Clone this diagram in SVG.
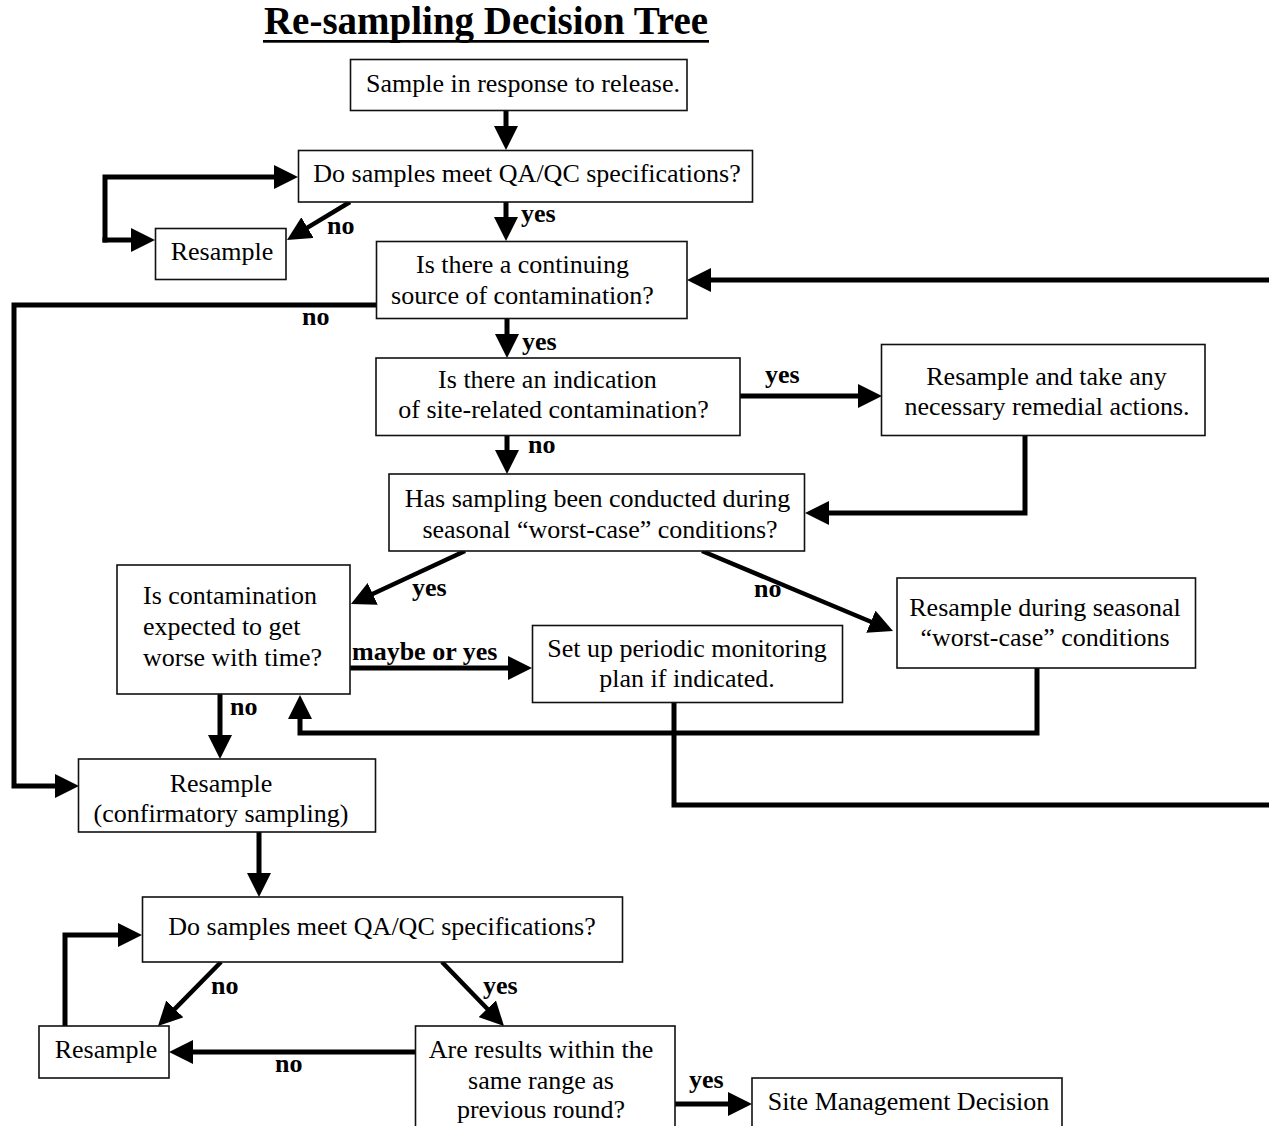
<svg xmlns="http://www.w3.org/2000/svg" width="1269" height="1126" viewBox="0 0 1269 1126">
  <style>
    .box { fill: #ffffff; stroke: #111111; stroke-width: 1.6; }
    .t { font-family: "Liberation Serif", "Times New Roman", serif; font-size: 26px; fill: #000000; }
    .c { text-anchor: middle; }
    .lbl { font-family: "Liberation Serif", "Times New Roman", serif; font-size: 26px; font-weight: bold; fill: #000000; }
    .wire { fill: none; stroke: #000000; stroke-width: 5; stroke-linecap: square; stroke-linejoin: miter; }
    .diag { fill: none; stroke: #000000; stroke-width: 4.5; stroke-linecap: butt; }
    .arr { marker-end: url(#head); }
  </style>
  <defs>
    <!-- solid triangular arrowhead; base sits 2px behind the path end, tip 22px ahead -->
    <marker id="head" viewBox="0 0 24 24" refX="2" refY="12" markerWidth="24" markerHeight="24" markerUnits="userSpaceOnUse" orient="auto">
      <path d="M0,0 L24,12 L0,24 Z" fill="#000000"/>
    </marker>
  </defs>

  <rect width="1269" height="1126" fill="#ffffff"/>

  <!-- title -->
  <g id="title">
    <text x="486" y="34" text-anchor="middle" font-family="Liberation Serif, Times New Roman, serif" font-size="39" font-weight="bold">Re-sampling Decision Tree</text>
    <rect x="263" y="40" width="446" height="2.7" fill="#000000"/>
  </g>

  <!-- connectors -->
  <g id="connectors">
    <path class="wire arr" d="M506,111 V128"/>
    <path class="wire arr" d="M105,240 V177 H276"/>
    <path class="wire arr" d="M105,240 H133"/>
    <path class="diag arr" d="M350,202 L305.8,228.6"/>
    <path class="wire arr" d="M506,203 V219"/>
    <path class="wire arr" d="M1272,280 H709"/>
    <path class="wire arr" d="M376,305 H14 V786 H57"/>
    <path class="wire arr" d="M507,319 V336"/>
    <path class="wire arr" d="M740,396 H860"/>
    <path class="wire arr" d="M1025,436 V513 H827"/>
    <path class="wire arr" d="M507,436 V452"/>
    <path class="diag arr" d="M465,551 L370.9,594.7"/>
    <path class="diag arr" d="M702,551 L872.7,622.5"/>
    <path class="wire arr" d="M350,668 H510"/>
    <path class="wire arr" d="M1037,668 V733 H300 V717"/>
    <path class="wire" d="M674,703 V805 H1272"/>
    <path class="wire arr" d="M220,694 V737"/>
    <path class="wire arr" d="M259,832 V875"/>
    <path class="wire arr" d="M65,1026 V935 H120"/>
    <path class="diag arr" d="M221,962 L173.4,1010.3"/>
    <path class="diag arr" d="M442,962 L488.7,1010.2"/>
    <path class="wire arr" d="M415,1052 H191"/>
    <path class="wire arr" d="M675,1104 H730"/>
  </g>

  <!-- connector labels -->
  <g id="labels">
    <text class="lbl" x="327" y="234">no</text>
    <text class="lbl" x="521" y="222">yes</text>
    <text class="lbl" x="302" y="325">no</text>
    <text class="lbl" x="522" y="350">yes</text>
    <text class="lbl" x="765" y="383">yes</text>
    <text class="lbl" x="528" y="453">no</text>
    <text class="lbl" x="412" y="596">yes</text>
    <text class="lbl" x="754" y="597">no</text>
    <text class="lbl" x="352" y="660">maybe or yes</text>
    <text class="lbl" x="230" y="715">no</text>
    <text class="lbl" x="211" y="994">no</text>
    <text class="lbl" x="483" y="994">yes</text>
    <text class="lbl" x="275" y="1072">no</text>
    <text class="lbl" x="689" y="1088">yes</text>
  </g>

  <!-- nodes -->
  <g id="n-sample">
    <rect class="box" x="350.5" y="59.5" width="336.5" height="51"/>
    <text class="t c" x="523" y="92">Sample in response to release.</text>
  </g>
  <g id="n-qaqc-1">
    <rect class="box" x="298.5" y="150.5" width="454" height="51.5"/>
    <text class="t c" x="527" y="182">Do samples meet QA/QC specifications?</text>
  </g>
  <g id="n-resample-1">
    <rect class="box" x="155.5" y="228.5" width="130.5" height="51"/>
    <text class="t c" x="222" y="260">Resample</text>
  </g>
  <g id="n-source">
    <rect class="box" x="376.5" y="241.5" width="310.5" height="77"/>
    <text class="t c" x="522.5" y="273">Is there a continuing</text>
    <text class="t c" x="522.5" y="304">source of contamination?</text>
  </g>
  <g id="n-indication">
    <rect class="box" x="376" y="358" width="364" height="77.5"/>
    <text class="t c" x="547.5" y="388">Is there an indication</text>
    <text class="t c" x="553.5" y="418">of site-related contamination?</text>
  </g>
  <g id="n-remedial">
    <rect class="box" x="881.5" y="344.5" width="323.5" height="91"/>
    <text class="t c" x="1046.5" y="385">Resample and take any</text>
    <text class="t c" x="1047" y="415">necessary remedial actions.</text>
  </g>
  <g id="n-worstcase">
    <rect class="box" x="389" y="474" width="415.5" height="77"/>
    <text class="t c" x="597.5" y="507">Has sampling been conducted during</text>
    <text class="t c" x="600" y="538">seasonal “worst-case” conditions?</text>
  </g>
  <g id="n-worse">
    <rect class="box" x="117" y="565" width="233" height="129"/>
    <text class="t" x="143" y="604">Is contamination</text>
    <text class="t" x="143" y="635">expected to get</text>
    <text class="t" x="143" y="666">worse with time?</text>
  </g>
  <g id="n-monitoring">
    <rect class="box" x="532.5" y="625.5" width="310" height="77"/>
    <text class="t c" x="687" y="657">Set up periodic monitoring</text>
    <text class="t c" x="687" y="687">plan if indicated.</text>
  </g>
  <g id="n-seasonal">
    <rect class="box" x="897" y="578" width="298.5" height="90"/>
    <text class="t c" x="1045" y="616">Resample during seasonal</text>
    <text class="t c" x="1045" y="646">“worst-case” conditions</text>
  </g>
  <g id="n-confirm">
    <rect class="box" x="78.5" y="759" width="297" height="73"/>
    <text class="t c" x="221" y="792">Resample</text>
    <text class="t c" x="221" y="822">(confirmatory sampling)</text>
  </g>
  <g id="n-qaqc-2">
    <rect class="box" x="142.5" y="897" width="480" height="65"/>
    <text class="t c" x="382" y="935">Do samples meet QA/QC specifications?</text>
  </g>
  <g id="n-resample-2">
    <rect class="box" x="39" y="1026" width="130" height="52"/>
    <text class="t c" x="106" y="1058">Resample</text>
  </g>
  <g id="n-range">
    <rect class="box" x="415.5" y="1026" width="259.5" height="110"/>
    <text class="t c" x="541" y="1058">Are results within the</text>
    <text class="t c" x="541" y="1089">same range as</text>
    <text class="t c" x="541" y="1118">previous round?</text>
  </g>
  <g id="n-decision">
    <rect class="box" x="752" y="1078" width="310" height="60"/>
    <text class="t c" x="908.5" y="1110">Site Management Decision</text>
  </g>
</svg>
